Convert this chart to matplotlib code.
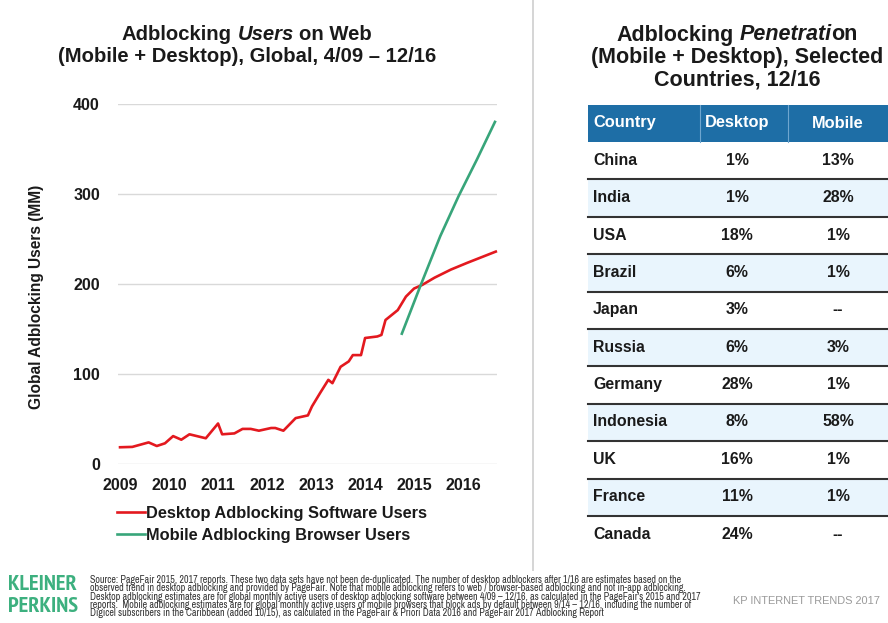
import matplotlib
matplotlib.use("Agg")
import matplotlib.pyplot as plt
from matplotlib.patches import Rectangle
from matplotlib.lines import Line2D
from matplotlib import font_manager as fm

# ---------------- data ----------------
years = [2009, 2010, 2011, 2012, 2013, 2014, 2015, 2016]
# months since 4/2009
desktop_month = [0, 3, 7, 9, 11, 13, 15, 17, 21, 24, 25, 28, 30, 32, 34, 37, 38, 40,
                 43, 46, 47, 49, 51, 52, 54, 56, 57, 59, 60, 63, 64, 65, 68, 70, 72,
                 74, 77, 81, 85, 92]
desktop_users = [18.6, 19, 24, 20, 23, 31, 27, 33, 28.6, 45, 33, 34, 39, 39, 37, 40, 40, 37,
                 51, 54, 64, 79, 93.5, 89.8, 108, 114, 121, 121, 140, 141.7, 143.4, 160, 171, 186, 195,
                 199, 207, 216, 223.5, 236]
mobile_month = [69, 73.5, 78.4, 82.9, 87.4, 91.8]
mobile_users = [144.8, 197.4, 253.1, 297.7, 338.5, 380.1]
series_labels = ["Desktop Adblocking Software Users", "Mobile Adblocking Browser Users"]

countries = ["China", "India", "USA", "Brazil", "Japan", "Russia", "Germany",
             "Indonesia", "UK", "France", "Canada"]
desktop_pct = [1, 1, 18, 6, 3, 6, 28, 8, 16, 11, 24]
mobile_pct = [13, 28, 1, 1, None, 3, 1, 58, 1, 1, None]
table_header = ["Country", "Desktop", "Mobile"]

footnote_lines = [
    "Source: PageFair 2015, 2017 reports. These two data sets have not been de-duplicated. The number of desktop adblockers after 1/16 are estimates based on the",
    "observed trend in desktop adblocking and provided by PageFair. Note that mobile adblocking refers to web / browser-based adblocking and not in-app adblocking.",
    "Desktop adblocking estimates are for global monthly active users of desktop adblocking software between 4/09 \u2013 12/16, as calculated in the PageFair's 2015 and 2017",
    "reports.  Mobile adblocking estimates are for global monthly active users of mobile browsers that block ads by default between 9/14 \u2013 12/16, including the number of",
    "Digicel subscribers in the Caribbean (added 10/15), as calculated in the PageFair & Priori Data 2016 and PageFair 2017 Adblocking Report",
]

# ---------------- style ----------------
RED = "#e3191f"
GREEN = "#38a57a"
HEADER = "#1e6ea6"
LIGHT = "#e9f5fd"
LOGO = "#3db07f"
TXT = "#1a1a1a"

plt.rcParams["font.family"] = ["Liberation Sans", "DejaVu Sans"]


def find_condensed(bold):
    best = None
    for f in fm.fontManager.ttflist:
        n = (f.name + " " + f.fname).lower()
        narrow = "narrow" in n
        cond = "condensed" in n or str(f.stretch) in ("condensed", "semi-condensed", "extra-condensed")
        if not (narrow or cond):
            continue
        w = f.weight
        if isinstance(w, str):
            w = fm.weight_dict.get(w, 400)
        if (w >= 600) != bold or f.style != "normal":
            continue
        rank = 0 if narrow else 1
        if best is None or rank < best[0]:
            best = (rank, f.fname)
    return best[1] if best else None


_fb = find_condensed(True)
_fr = find_condensed(False)
LOGO_FP = fm.FontProperties(fname=_fb) if _fb else fm.FontProperties(family="Liberation Sans", weight="bold")
NOTE_FP = fm.FontProperties(fname=_fr) if _fr else fm.FontProperties(family="Liberation Sans")

W, H = 888, 623
fig = plt.figure(figsize=(W / 100, H / 100), dpi=100)
ov = fig.add_axes([0, 0, 1, 1])
ov.set_xlim(0, W)
ov.set_ylim(H, 0)
ov.axis("off")
R = fig.canvas.get_renderer()


def width_of(s, **kw):
    t = ov.text(0, 0, s, **kw)
    w = t.get_window_extent(R).width
    t.remove()
    return w


def fit_size(s, target, base=10, **kw):
    return base * target / width_of(s, fontsize=base, **kw)


def fit_fp(s, target, fp):
    p = fp.copy()
    p.set_size(10)
    w = width_of(s, fontproperties=p)
    p.set_size(10 * target / w)
    return p


def rich_line(cx, y, parts, size):
    # parts: list of (text, italic, space_before)
    sw = width_of("x x", fontsize=size, fontweight="bold") - width_of("xx", fontsize=size, fontweight="bold")
    ws = []
    for s, it, sp in parts:
        ws.append(width_of(s, fontsize=size, fontweight="bold", fontstyle="italic" if it else "normal"))
    total = sum(ws) + sw * sum(1 for p in parts[1:] if p[2])
    x = cx - total / 2
    for i, (s, it, sp) in enumerate(parts):
        if i > 0 and sp:
            x += sw
        ov.text(x, y, s, fontsize=size, fontweight="bold", color=TXT,
                fontstyle="italic" if it else "normal", ha="left", va="center")
        x += ws[i]


# ---------------- titles ----------------
ls = fit_size("(Mobile + Desktop), Global, 4/09 \u2013 12/16", 379, fontweight="bold")
rich_line(247, 34, [("Adblocking", False, False), ("Users", True, True), ("on Web", False, True)], ls)
rich_line(247, 57, [("(Mobile + Desktop), Global, 4/09 \u2013 12/16", False, False)], ls)

rs = fit_size("(Mobile + Desktop), Selected", 293, fontweight="bold")
rich_line(737, 35, [("Adblocking", False, False), ("Penetrati", True, True), ("on", False, False)], rs)
rich_line(737, 57, [("(Mobile + Desktop), Selected", False, False)], rs)
rich_line(737, 80, [("Countries, 12/16", False, False)], rs)

# separator
ov.add_line(Line2D([533, 533], [0, 570], color="#d5d5d5", lw=1.4))

# ---------------- line chart ----------------
ax = fig.add_axes([118 / W, (H - 464) / H, 379 / W, 360 / H])
ax.patch.set_alpha(0)
ax.plot(desktop_month, desktop_users, color=RED, lw=1.9, clip_on=False, zorder=3,
        label=series_labels[0], solid_joinstyle="round")
ax.plot(mobile_month, mobile_users, color=GREEN, lw=1.9, clip_on=False, zorder=4,
        label=series_labels[1], solid_joinstyle="round")
ax.set_xlim(-0.5, 92.3)
ax.set_ylim(0, 400)
ax.set_yticks([0, 100, 200, 300, 400])
ax.set_xticks([12 * i for i in range(len(years))])
ax.set_xticklabels([str(y) for y in years])
ax.grid(axis="y", color="#d9d9d9", lw=1)
ax.grid(axis="x", visible=False)
ax.set_axisbelow(True)
for s in ax.spines.values():
    s.set_visible(False)
ax.tick_params(axis="both", length=0, labelsize=11.5, colors=TXT)
ax.tick_params(axis="y", pad=13)
ax.tick_params(axis="x", pad=10)
for lab in ax.get_xticklabels() + ax.get_yticklabels():
    lab.set_fontweight("bold")
ax.set_ylabel("Global Adblocking Users (MM)", fontsize=11.2, fontweight="bold", color=TXT)
ax.yaxis.set_label_coords((44 - 118) / 379, (464 - 297) / 360)

leg = fig.legend(loc="upper left", bbox_to_anchor=(117 / W, 1 - 506 / H),
                 bbox_transform=fig.transFigure, frameon=False, borderpad=0,
                 borderaxespad=0, handlelength=1.7, handletextpad=0.1,
                 labelspacing=0.4, prop={"size": 11.8, "weight": "bold"})
for t in leg.get_texts():
    t.set_color(TXT)

# ---------------- table ----------------
tx0, tx1 = 588, 888
hy0, hy1 = 105, 142
rh = 37.4
col_desk, col_mob = 737, 838
HS, BS = 11.8, 11.4
ov.add_patch(Rectangle((tx0, hy0), tx1 - tx0, hy1 - hy0, color=HEADER, lw=0))
for xv in (700, 788):
    ov.add_line(Line2D([xv, xv], [hy0, hy1], color="#6fa6cf", lw=0.8))
hyc = (hy0 + hy1) / 2 + 4
ov.text(593, hyc, table_header[0], color="white", fontsize=HS, fontweight="bold", ha="left", va="baseline")
ov.text(col_desk, hyc, table_header[1], color="white", fontsize=HS, fontweight="bold", ha="center", va="baseline")
ov.text(col_mob, hyc, table_header[2], color="white", fontsize=HS, fontweight="bold", ha="center", va="baseline")
for i, c in enumerate(countries):
    y0 = hy1 + i * rh
    ov.add_patch(Rectangle((tx0, y0), tx1 - tx0, rh, color=(LIGHT if i % 2 else "white"), lw=0))
    yb = y0 + rh / 2 + 4
    ov.text(593, yb, c, fontsize=BS, fontweight="bold", color=TXT, ha="left", va="baseline")
    ov.text(col_desk, yb, f"{desktop_pct[i]}%", fontsize=BS, fontweight="bold", color=TXT, ha="center", va="baseline")
    mv = mobile_pct[i]
    ov.text(col_mob, yb, "--" if mv is None else f"{mv}%", fontsize=BS, fontweight="bold", color=TXT, ha="center", va="baseline")
    if i < len(countries) - 1:
        ov.add_line(Line2D([tx0, tx1], [y0 + rh, y0 + rh], color="#333333", lw=1.5))

# ---------------- footer ----------------
lp = fit_fp("KLEINER", 69, LOGO_FP)
ov.text(8, 584, "KLEINER", fontproperties=lp, color=LOGO, ha="left", va="center")
ov.text(8, 607, "PERKINS", fontproperties=lp, color=LOGO, ha="left", va="center")

npf = fit_fp(footnote_lines[2], 612, NOTE_FP)
for j, line in enumerate(footnote_lines):
    ov.text(90, 580 + j * 8.3, line, fontproperties=npf, color="#333333", ha="left", va="center")

ov.text(733, 601, "KP INTERNET TRENDS 2017", fontsize=7.9, color="#9a9a9a", ha="left", va="center")

fig.savefig("out.png", dpi=100)
